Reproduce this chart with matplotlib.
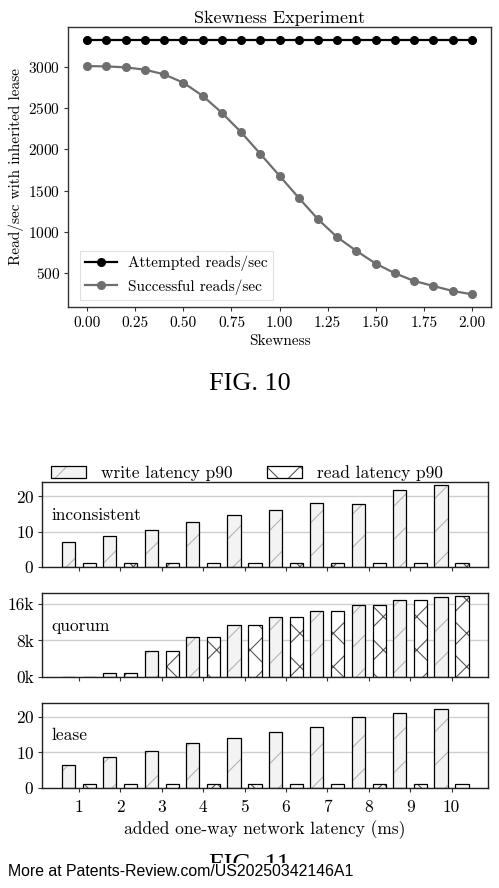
import matplotlib
matplotlib.use("Agg")
import matplotlib.pyplot as plt
from matplotlib.ticker import FuncFormatter

plt.rcParams['font.family'] = ['cmr10', 'DejaVu Serif']
plt.rcParams['axes.formatter.use_mathtext'] = True
plt.rcParams['axes.unicode_minus'] = False
plt.rcParams['hatch.linewidth'] = 0.8

# ---------------- data: FIG. 10 ----------------
skewness = [0.0, 0.1, 0.2, 0.3, 0.4, 0.5, 0.6, 0.7, 0.8, 0.9, 1.0,
            1.1, 1.2, 1.3, 1.4, 1.5, 1.6, 1.7, 1.8, 1.9, 2.0]
attempted = [3337] * 21
successful = [3016, 3012, 3000, 2972, 2915, 2813, 2654, 2447, 2211, 1947, 1679,
              1411, 1150, 931, 764, 610, 492, 398, 337, 276, 236]
skew_ticks = [0.0, 0.25, 0.5, 0.75, 1.0, 1.25, 1.5, 1.75, 2.0]
read_ticks = [500, 1000, 1500, 2000, 2500, 3000]

# ---------------- data: FIG. 11 ----------------
latency = [1, 2, 3, 4, 5, 6, 7, 8, 9, 10]
incons_write = [7.0, 8.7, 10.5, 12.6, 14.6, 16.1, 18.2, 17.9, 21.7, 23.2]
incons_read = [1.2, 1.2, 1.2, 1.2, 1.2, 1.2, 1.2, 1.2, 1.2, 1.2]
quorum_write = [0, 800, 5670, 8650, 11270, 13160, 14400, 15850, 16950, 17600]
quorum_read = [0, 870, 5670, 8650, 11270, 13100, 14400, 15850, 16950, 17650]
lease_write = [6.5, 8.7, 10.4, 12.7, 14.0, 15.6, 17.0, 19.8, 21.2, 22.3]
lease_read = [1.1, 1.1, 1.1, 1.1, 1.1, 1.1, 1.1, 1.1, 1.1, 1.1]
panel_names = ['inconsistent', 'quorum', 'lease']
series_names = ['write latency p90', 'read latency p90']

fig = plt.figure(figsize=(4.99, 8.88), dpi=100)

# ---------------- FIG. 10 ----------------
ax = fig.add_axes([0.1363, 0.6543, 0.8477, 0.3153])
ax.plot(skewness, attempted, color='black', marker='o', markersize=5.5,
        linewidth=1.6, label='Attempted reads/sec')
ax.plot(skewness, successful, color='#6e6e6e', marker='o', markersize=5.5,
        linewidth=1.6, label='Successful reads/sec')
ax.set_xticks(skew_ticks)
ax.set_xticklabels(['%.2f' % v for v in skew_ticks])
ax.set_yticks(read_ticks)
ax.tick_params(labelsize=11, length=3, width=0.8, color='#333333', pad=3.5)
ax.tick_params(axis='y', pad=2.5)
ax.set_title('Skewness Experiment', fontsize=13, pad=3)
ax.set_xlabel('Skewness', fontsize=11, labelpad=3)
ax.set_ylabel('Read/sec with inherited lease', fontsize=11, labelpad=3)
for s in ax.spines.values():
    s.set_color('#333333')
    s.set_linewidth(1.0)
leg = ax.legend(loc='lower left', fontsize=11, fancybox=False, framealpha=1,
                edgecolor='#e0e0e0', handlelength=2.1, handletextpad=0.7,
                borderpad=0.35, labelspacing=0.5, borderaxespad=0,
                bbox_to_anchor=(0.028, 0.025))
leg.get_frame().set_linewidth(0.8)

fig.text(0.5, 0.5676, 'FIG. 10', ha='center', va='center', fontsize=18.8,
         family=['Liberation Serif'])

# ---------------- FIG. 11 ----------------
panel_tops = [0.4572, 0.3318, 0.2080]
panel_bottoms = [0.3615, 0.2376, 0.1130]
writes = [incons_write, quorum_write, lease_write]
reads = [incons_read, quorum_read, lease_read]
ylims = [24, 18300, 23.8]
yticks = [[0, 10, 20], [0, 8000, 16000], [0, 10, 20]]
label_y = [0.61, 0.60, 0.62]
width = 0.32
off = 0.254

handles = None
for i in range(3):
    a = fig.add_axes([0.0842, panel_bottoms[i], 0.8938,
                      panel_tops[i] - panel_bottoms[i]])
    xw = [x - off for x in latency]
    xr = [x + off for x in latency]
    hw1 = a.bar(xw, writes[i], width, color='#f3f3f3', edgecolor='#b5b5b5',
                linewidth=0, hatch='/', zorder=2)
    hw2 = a.bar(xw, writes[i], width, fill=False, edgecolor='black',
                linewidth=0.9, zorder=3)
    hr1 = a.bar(xr, reads[i], width, color='white', edgecolor='#555555',
                linewidth=0, hatch='x', zorder=2)
    hr2 = a.bar(xr, reads[i], width, fill=False, edgecolor='black',
                linewidth=0.9, zorder=3)
    if i == 0:
        handles = [(hw1[0], hw2[0]), (hr1[0], hr2[0])]
    a.set_xlim(0.11, 10.88)
    a.set_ylim(0, ylims[i])
    a.set_yticks(yticks[i])
    a.set_xticks(latency)
    a.grid(axis='y', color='#cfcfcf', linewidth=1.0)
    a.set_axisbelow(True)
    a.tick_params(labelsize=12.5, length=3, width=0.8, color='#333333', pad=2.5)
    a.tick_params(axis='x', pad=5.5)
    if i == 1:
        a.yaxis.set_major_formatter(FuncFormatter(lambda v, p: '%dk' % round(v / 1000)))
    if i < 2:
        a.set_xticklabels([])
    else:
        a.set_xticklabels([str(v) for v in latency])
        a.set_xlabel('added one-way network latency (ms)', fontsize=12.5, labelpad=4)
    for s in a.spines.values():
        s.set_color('#222222')
        s.set_linewidth(1.0)
    a.text(0.022, label_y[i], panel_names[i], transform=a.transAxes,
           fontsize=12.5, ha='left', va='center')

fig.legend(handles, series_names, loc='center', ncol=2, frameon=False,
           fontsize=12.5, bbox_to_anchor=(0.495, 0.4673), handlelength=2.0,
           handleheight=0.65, columnspacing=2.0, handletextpad=0.86)

fig.text(0.5, 0.0255, 'FIG. 11', ha='center', va='center', fontsize=18.8,
         family=['Liberation Serif'])
fig.text(0.016, 0.0186, 'More at Patents-Review.com/US20250342146A1',
         ha='left', va='center', fontsize=11.4, family=['Liberation Sans'],
         bbox=dict(facecolor='white', edgecolor='none', pad=0.5))

fig.savefig('out.png', dpi=100)
